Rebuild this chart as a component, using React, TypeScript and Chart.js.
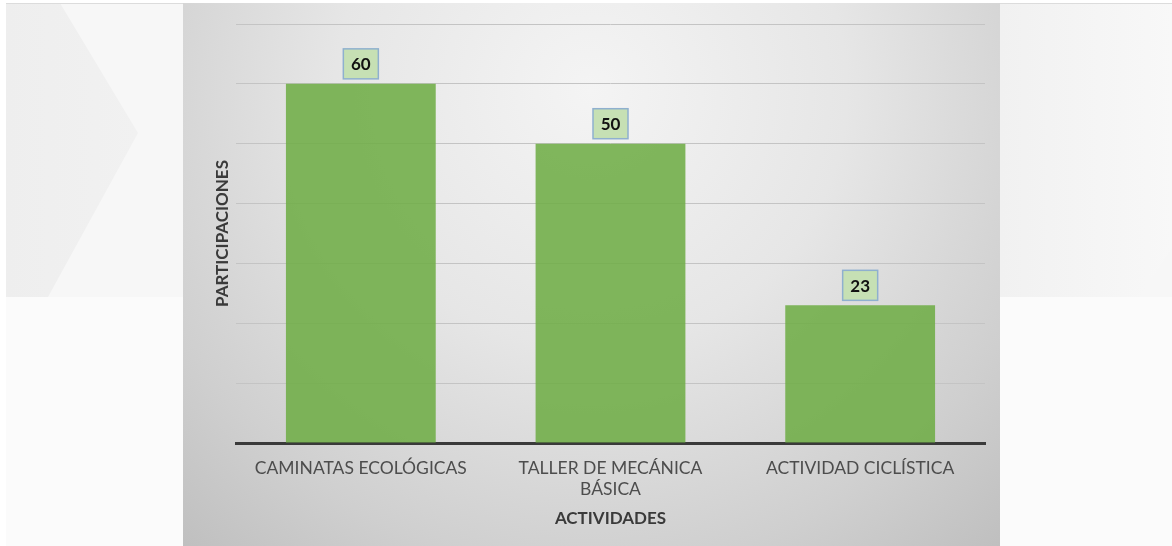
import React, { useEffect, useRef } from "react";
import { Chart, registerables } from "chart.js";

Chart.register(...registerables);

// ---- data ----
const categories: string[][] = [
  ["CAMINATAS ECOLÓGICAS"],
  ["TALLER DE MECÁNICA", "BÁSICA"],
  ["ACTIVIDAD CICLÍSTICA"],
];
const participaciones: number[] = [60, 50, 23];
const yMin = 0;
const yMax = 70;
const yStep = 10;
const xTitle = "ACTIVIDADES";
const yTitle = "PARTICIPACIONES";

const FONT = "Lato";

const backgroundPlugin = {
  id: "slideBackground",
  beforeDraw(chart: any) {
    const ctx = chart.ctx as CanvasRenderingContext2D;
    const W = chart.width;
    const H = chart.height;
    ctx.save();
    ctx.fillStyle = "#ffffff";
    ctx.fillRect(0, 0, W, H);
    // lower light band
    ctx.fillStyle = "#fbfbfb";
    ctx.fillRect(6, 297, W - 6, H - 297);
    // upper band
    ctx.fillStyle = "#f7f7f7";
    ctx.fillRect(6, 3, W - 6, 294);
    // left chevron
    let g = ctx.createLinearGradient(6, 0, 138, 0);
    g.addColorStop(0, "#eeeeee");
    g.addColorStop(1, "#f1f1f1");
    ctx.fillStyle = g;
    ctx.beginPath();
    ctx.moveTo(6, 3);
    ctx.lineTo(60, 3);
    ctx.lineTo(138, 133);
    ctx.lineTo(48, 297);
    ctx.lineTo(6, 297);
    ctx.closePath();
    ctx.fill();
    // right chevron
    g = ctx.createLinearGradient(1000, 0, 1172, 0);
    g.addColorStop(0, "#f1f1f1");
    g.addColorStop(1, "#f8f8f8");
    ctx.fillStyle = g;
    ctx.beginPath();
    ctx.moveTo(1000, 3);
    ctx.lineTo(W, 3);
    ctx.lineTo(W, 248);
    ctx.lineTo(1140, 297);
    ctx.lineTo(1000, 297);
    ctx.closePath();
    ctx.fill();
    // top hairline
    ctx.fillStyle = "#dcdcdc";
    ctx.fillRect(6, 3, W - 6, 1);
    // gray panel
    const rg = ctx.createRadialGradient(591, 90, 0, 591, 90, 640);
    rg.addColorStop(0, "#f4f4f4");
    rg.addColorStop(0.4, "#e6e6e6");
    rg.addColorStop(0.75, "#cfcfcf");
    rg.addColorStop(1, "#bcbcbc");
    ctx.fillStyle = rg;
    ctx.fillRect(183, 3, 817, H - 3);
    ctx.restore();
  },
};

const labelBoxPlugin = {
  id: "labelBoxes",
  afterDatasetsDraw(chart: any) {
    const ctx = chart.ctx as CanvasRenderingContext2D;
    const meta = chart.getDatasetMeta(0);
    const data = chart.data.datasets[0].data as number[];
    ctx.save();
    meta.data.forEach((bar: any, i: number) => {
      const bw = 35;
      const bh = 30;
      const x = bar.x - bw / 2;
      const y = bar.y - 5 - bh;
      ctx.fillStyle = "#c6e0b4";
      ctx.fillRect(x, y, bw, bh);
      ctx.strokeStyle = "#8fb0cf";
      ctx.lineWidth = 1.5;
      ctx.strokeRect(x, y, bw, bh);
      ctx.fillStyle = "#111111";
      ctx.font = `bold 17px ${FONT}`;
      ctx.textAlign = "center";
      ctx.textBaseline = "middle";
      ctx.fillText(String(data[i]), bar.x, y + bh / 2 + 1);
    });
    ctx.restore();
  },
};

export default function App() {
  const ref = useRef<HTMLCanvasElement | null>(null);
  useEffect(() => {
    if (!ref.current) return;
    const chart = new Chart(ref.current, {
      type: "bar",
      data: {
        labels: categories,
        datasets: [
          {
            data: participaciones,
            backgroundColor: "rgba(112,173,71,0.88)",
            borderWidth: 0,
            categoryPercentage: 1,
            barPercentage: 0.6,
          },
        ],
      },
      plugins: [backgroundPlugin, labelBoxPlugin],
      options: {
        animation: false,
        responsive: false,
        devicePixelRatio: 1,
        layout: { padding: { left: 186, right: 187, top: 24, bottom: 0 } },
        plugins: {
          legend: { display: false },
          tooltip: { enabled: false },
          title: { display: false },
        },
        scales: {
          x: {
            grid: { display: false, drawTicks: false },
            border: { display: true, color: "#3a3a3a", width: 3 },
            ticks: {
              padding: 15,
              color: "#4d4d4d",
              font: { family: FONT, size: 17.5, lineHeight: 1.2 },
              maxRotation: 0,
              autoSkip: false,
            },
            title: {
              display: true,
              text: xTitle,
              color: "#3a3a3a",
              font: { family: FONT, size: 17, weight: "bold", lineHeight: 1.2 },
              padding: { top: 0, bottom: 17.5 },
            },
            afterFit(scale: any) {
              scale.height = 103;
            },
          },
          y: {
            min: yMin,
            max: yMax,
            ticks: { display: false, stepSize: yStep },
            grid: { color: "#c4c4c4", lineWidth: 1, drawTicks: false },
            border: { display: false },
            title: {
              display: true,
              text: yTitle,
              color: "#3a3a3a",
              font: { family: FONT, size: 17, weight: "bold", lineHeight: 1.2 },
              padding: { top: 26, bottom: 0 },
            },
            afterFit(scale: any) {
              scale.width = 50;
            },
          },
        },
      },
    });
    return () => chart.destroy();
  }, []);
  return (
    <canvas
      ref={ref}
      width={1172}
      height={546}
      style={{ position: "fixed", left: 0, top: 0, display: "block" }}
    />
  );
}
